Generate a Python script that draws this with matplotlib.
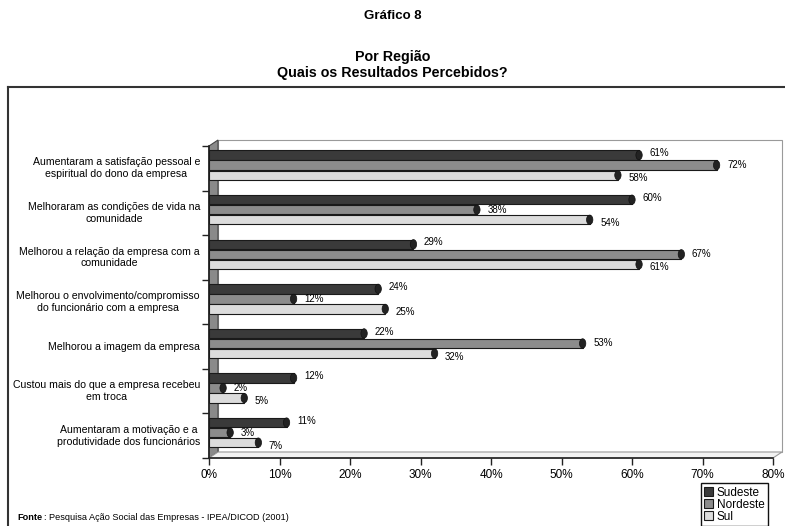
import numpy as np
import matplotlib.pyplot as plt
from matplotlib.patches import Polygon, Rectangle, Ellipse
from matplotlib.lines import Line2D
import matplotlib.transforms as mtransforms

plt.rcParams['font.family'] = ['Liberation Sans', 'DejaVu Sans']

# Dados
categorias = ['Aumentaram a satisfação pessoal e\nespiritual do dono da empresa',
              'Melhoraram as condições de vida na\ncomunidade',
              'Melhorou a relação da empresa com a\ncomunidade',
              'Melhorou o envolvimento/compromisso\ndo funcionário com a empresa',
              'Melhorou a imagem da empresa',
              'Custou mais do que a empresa recebeu\nem troca',
              'Aumentaram a motivação e a\nprodutividade dos funcionários']
sudeste = [61, 60, 29, 24, 22, 12, 11]
nordeste = [72, 38, 67, 12, 53, 2, 3]
sul = [58, 54, 61, 25, 32, 5, 7]
series = ['Sudeste', 'Nordeste', 'Sul']
cores = ['#3a3a3a', '#8c8c8c', '#dcdcdc']
xticks = [0, 10, 20, 30, 40, 50, 60, 70, 80]

fig = plt.figure(figsize=(7.85, 5.26), dpi=100)
ax = fig.add_axes([209/785, 1-458/526, (773-209)/785, (458-146)/526])

# profundidade 3D
prof = mtransforms.ScaledTranslation(9/100, 6/100, fig.dpi_scale_trans)
tr_fundo = ax.transAxes + prof
ax.add_patch(Rectangle((0, 0), 1, 1, transform=tr_fundo, fill=False,
                       edgecolor='#9a9a9a', lw=0.8, clip_on=False, zorder=0))
# parede esquerda
pts_front = ax.transAxes.transform([(0, 0), (0, 1)])
pts_back = tr_fundo.transform([(0, 1), (0, 0)])
ax.add_patch(Polygon(np.vstack([pts_front, pts_back]), closed=True, transform=None,
                     facecolor='#8a8a8a', edgecolor='#444444', lw=0.8, clip_on=False, zorder=0))
# chão
pts_f = ax.transAxes.transform([(0, 0), (1, 0)])
pts_b = tr_fundo.transform([(1, 0), (0, 0)])
ax.add_patch(Polygon(np.vstack([pts_f, pts_b]), closed=True, transform=None,
                     facecolor='#f2f2f2', edgecolor='#9a9a9a', lw=0.8, clip_on=False, zorder=0))

y = np.arange(len(categorias))
h = 0.21
passo = 0.225
for k, (vals, cor, nome) in enumerate(zip([sudeste, nordeste, sul], cores, series)):
    pos = y - 0.07 + (k - 1) * passo
    ax.barh(pos, vals, height=h, color=cor, edgecolor='#1a1a1a', lw=0.8, label=nome, zorder=3)
    dy = [-0.04, 0.0, 0.07][k]
    for p, v in zip(pos, vals):
        # tampa cilíndrica no fim da barra
        ax.add_patch(Ellipse((v, p), 0.9, h, facecolor='#222222', edgecolor='#111111',
                             lw=0.5, zorder=4))
        ax.text(v + 1.5, p + dy, f'{v}%', fontsize=7, va='center', ha='left', zorder=4)

ax.set_ylim(len(categorias) - 0.5, -0.5)
ax.set_xlim(0, 80)
ax.set_xticks(xticks)
ax.set_xticklabels([f'{t}%' for t in xticks], fontsize=8.5)
ax.set_yticks(np.arange(len(categorias) + 1) - 0.5, minor=False)
ax.set_yticklabels([])
for i, c in enumerate(categorias):
    ax.text(-0.016, 1 - (i + 0.5) / len(categorias), c, transform=ax.transAxes,
            ha='right', va='center', multialignment='center', fontsize=7.6)
ax.tick_params(axis='y', length=5, width=1, color='#222222')
ax.tick_params(axis='x', length=5, width=1, color='#222222', pad=3)
ax.spines['top'].set_visible(False)
ax.spines['right'].set_visible(False)
ax.spines['left'].set_color('#222222')
ax.spines['bottom'].set_color('#222222')
ax.spines['left'].set_linewidth(1.2)
ax.spines['bottom'].set_linewidth(1.2)
ax.patch.set_alpha(0)

# títulos
fig.text(0.5, 1 - 16/526, 'Gráfico 8', ha='center', va='center', fontsize=9.5, fontweight='bold')
fig.text(0.5, 1 - 57/526, 'Por Região', ha='center', va='center', fontsize=10.3, fontweight='bold')
fig.text(0.5, 1 - 73/526, 'Quais os Resultados Percebidos?', ha='center', va='center', fontsize=10.3, fontweight='bold')

# moldura
fig.add_artist(Line2D([8/785, 1], [1 - 87/526, 1 - 87/526], color='#333333', lw=1.5))
fig.add_artist(Line2D([8/785, 8/785], [0, 1 - 87/526], color='#333333', lw=1.5))

# fonte
fig.text(17/785, 1 - 517/526, 'Fonte', fontsize=6.6, fontweight='bold', va='center')
fig.text(44/785, 1 - 517/526, ': Pesquisa Ação Social das Empresas - IPEA/DICOD (2001)', fontsize=6.6, va='center')

leg = fig.legend(loc='upper right', bbox_to_anchor=(768/785, 1 - 483/526), fontsize=8.5,
                 handlelength=0.75, handleheight=0.75, handletextpad=0.3, borderpad=0.3,
                 labelspacing=0.0, borderaxespad=0.0, fancybox=False,
                 edgecolor='#111111', framealpha=1)
leg.get_frame().set_linewidth(1.0)

fig.savefig('out.png', dpi=100)
